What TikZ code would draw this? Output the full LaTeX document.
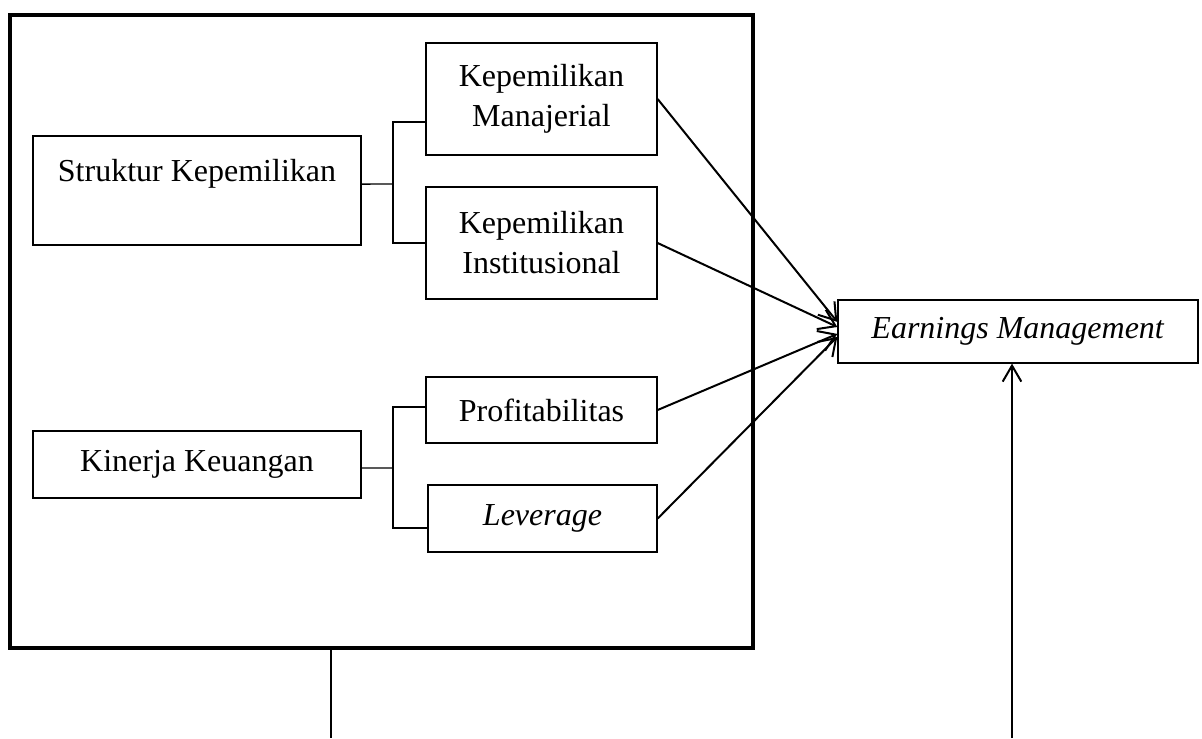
\documentclass[tikz,border=0pt]{standalone}
\usepackage{fontspec}
\setmainfont{Liberation Serif}
\usetikzlibrary{arrows.meta,positioning}

\begin{document}
\begin{tikzpicture}[x=0.375pt,y=-0.375pt,>={Straight Barb[length=6pt,width=8pt]},
  box/.style={draw,line width=0.5pt,align=center,inner sep=0pt,font=\fontsize{12}{15}\selectfont},
  link/.style={line width=0.5pt},
  arr/.style={->,line width=0.75pt}]
  \useasboundingbox (0,0) rectangle (1202,738);
  \node[draw,line width=1.7pt,minimum width=278.6pt,minimum height=237.4pt] (frame) at (381.5,331.5) {};
  % variabel independen
  \node[box,minimum width=123pt,minimum height=40.9pt] (struktur) at (197,190.5) {Struktur Kepemilikan\\\mbox{}};
  \node[box,minimum width=123pt,minimum height=25.1pt] (kinerja) at (197,464.5) {Kinerja Keuangan};
  \node[box,minimum width=86.6pt,minimum height=42pt] (manajerial) at (541.5,99) {Kepemilikan\\Manajerial};
  \node[box,minimum width=86.6pt,minimum height=42pt] (institusional) at (541.5,243) {Kepemilikan\\Institusional};
  \node[box,minimum width=86.6pt,minimum height=24.75pt] (profit) at (541.5,410) {Profitabilitas};
  \node[box,minimum width=85.9pt,minimum height=25.1pt] (leverage) at (542.5,518.5) {\textit{Leverage}};
  % variabel dependen
  \node[box,minimum width=135pt,minimum height=23.6pt] (em) at (1018,331.5) {\textit{Earnings Management}};
  % kurung
  \coordinate (jsk) at (393,184);
  \coordinate (jkk) at (393,468);
  \draw[link] ([yshift=2.4pt]struktur.east) -- (jsk);
  \draw[link] ([yshift=-8.6pt]manajerial.west) -| (jsk) |- (institusional.west);
  \draw[link] ([yshift=-1.3pt]kinerja.east) -- (jkk);
  \draw[link] ([yshift=1.1pt]profit.west) -| (jkk) |- ([yshift=-3.6pt]leverage.west);
  % panah
  \draw[arr] (manajerial.east) -- ([yshift=3.6pt]em.west);
  \draw[arr] (institusional.east) -- ([yshift=1.7pt]em.west);
  \draw[arr] (profit.east) -- ([yshift=-0.9pt]em.west);
  \draw[arr] (leverage.east) -- ([yshift=-2pt]em.west);
  % garis bawah
  \coordinate (fbot) at (331,738);
  \coordinate (embot) at (1012,738);
  \draw[link] (frame.south -| fbot) -- (fbot);
  \draw[arr,>={Straight Barb[length=6pt,width=7pt]}] (embot) -- (embot |- em.south);
\end{tikzpicture}
\end{document}
